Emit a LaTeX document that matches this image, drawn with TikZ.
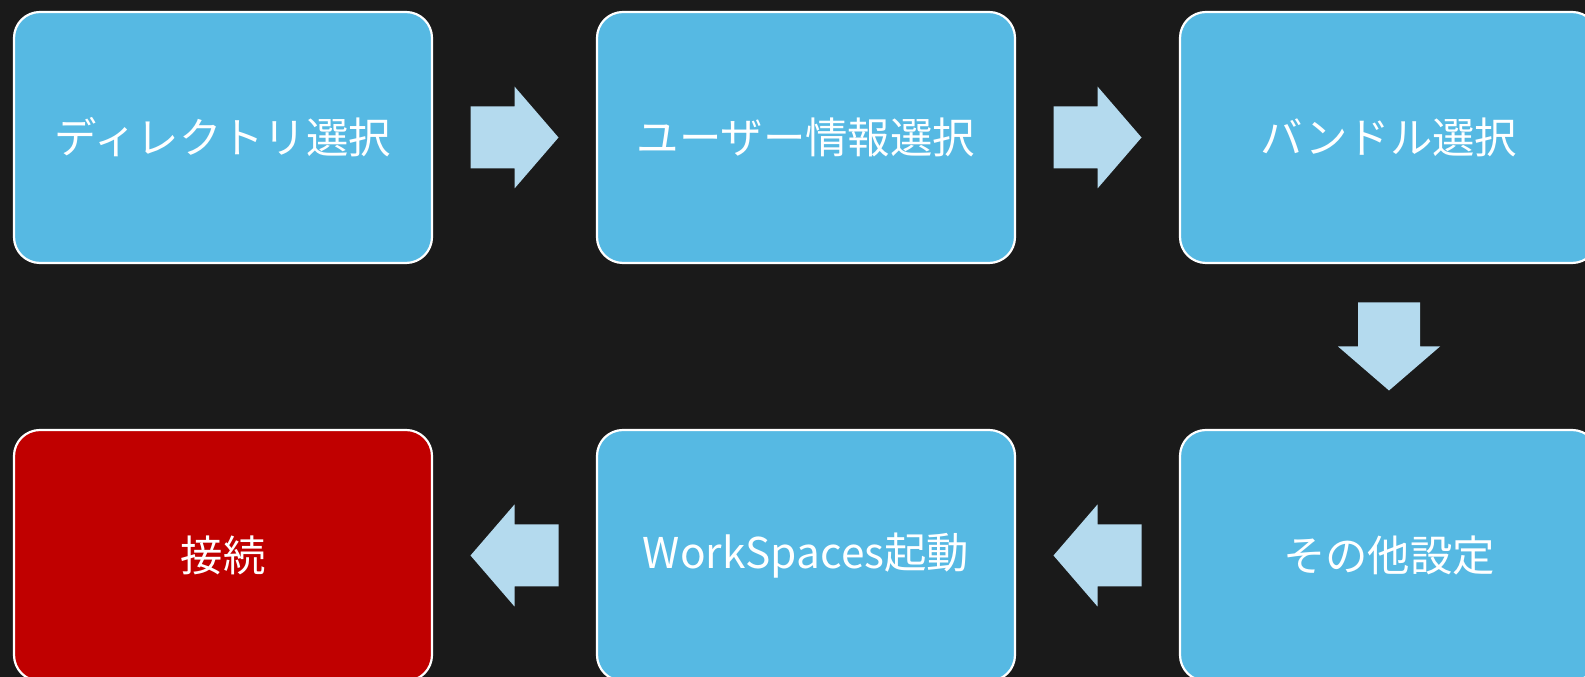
\documentclass[tikz,border=0pt]{standalone}
\usepackage{fontspec}
\newfontfamily\jpfont{Noto Sans CJK JP}
\usetikzlibrary{calc}
\definecolor{bgcol}{HTML}{1A1A1A}
\definecolor{boxblue}{HTML}{56B9E3}
\definecolor{boxred}{HTML}{C00000}
\definecolor{arrowblue}{HTML}{B4DAEE}
\newcommand{\blockarrow}[3]{%
  \begin{scope}[shift={($(#1)!0.5!(#2)$)}, rotate=#3]
    \fill[arrowblue] (-44,-31) -- (0,-31) -- (0,-51) -- (44,0) -- (0,51) -- (0,31) -- (-44,31) -- cycle;
  \end{scope}}
\begin{document}
\begin{tikzpicture}[x=0.5bp,y=0.5bp,
  stepbox/.style={rounded corners=13bp, draw=white, line width=1.1bp,
    minimum width=209bp, minimum height=125.5bp, inner sep=0pt,
    font=\jpfont\fontsize{21.2bp}{25bp}\selectfont, text=white}]
\useasboundingbox (0,0) rectangle (1585,677);
\clip (0,0) rectangle (1585,677);
\fill[bgcol] (0,0) rectangle (1585,677);
\node[stepbox, fill=boxblue] (b1) at (223,539.5) {ディレクトリ選択};
\node[stepbox, fill=boxblue] (b2) at (806,539.5) {ユーザー情報選択};
\node[stepbox, fill=boxblue] (b3) at (1389,539.5) {バンドル選択};
\node[stepbox, fill=boxblue] (b4) at (1389,121.5) {その他設定};
\node[stepbox, fill=boxblue] (b5) at (806,121.5) {WorkSpaces起動};
\node[stepbox, fill=boxred] (b6) at (223,121.5) {接続};
\blockarrow{b1.east}{b2.west}{0}
\blockarrow{b2.east}{b3.west}{0}
\blockarrow{b3.south}{b4.north}{-90}
\blockarrow{b4.west}{b5.east}{180}
\blockarrow{b5.west}{b6.east}{180}
\end{tikzpicture}
\end{document}
